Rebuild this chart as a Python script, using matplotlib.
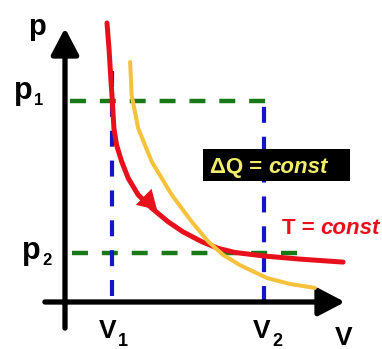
import matplotlib
matplotlib.use("Agg")
import matplotlib.pyplot as plt
from matplotlib.patches import Rectangle

plt.rcParams["font.family"] = ["Liberation Sans", "DejaVu Sans"]
plt.rcParams["lines.scale_dashes"] = False

# state points (arbitrary units, origin at the axis corner)
V1, V2 = 1.57, 6.63
p1, p2 = 6.70, 1.62

# isotherm (red)
iso_V = [1.40, 1.47, 1.53, 1.58, 1.63, 1.72, 1.89, 2.11, 2.44, 2.89, 3.43, 3.93,
         4.56, 5.10, 5.67, 6.67, 7.83, 9.27]
iso_p = [9.30, 8.40, 7.40, 6.68, 5.79, 5.23, 4.68, 4.12, 3.57, 3.13, 2.68, 2.34,
         2.01, 1.79, 1.65, 1.53, 1.43, 1.33]

# adiabat-like curve (yellow)
adi_V = [2.17, 2.20, 2.22, 2.44, 2.89, 3.56, 4.22, 4.78, 5.27, 5.83, 6.73, 7.50, 8.33]
adi_p = [8.00, 7.40, 6.90, 5.79, 4.68, 3.57, 2.68, 2.01, 1.57, 1.23, 0.80, 0.60, 0.47]

GREEN = "#177a17"
BLUE = "#1414c8"
RED = "#e8101c"
GOLD = "#f6c23c"

fig = plt.figure(figsize=(3.82, 3.49), dpi=100)
ax = fig.add_axes([0, 0, 1, 1])
ax.set_xlim(-65 / 30, 317 / 30)
ax.set_ylim(-47 / 30, 302 / 30)
ax.axis("off")

dash = (0, (11.5, 10))
# guide lines
ax.plot([0.17, 7.0], [p1, p1], color=GREEN, lw=3.2, linestyle=dash)
ax.plot([0.23, 8.0], [p2, p2], color=GREEN, lw=3.2, linestyle=dash)
ax.plot([V1, V1], [0.2, 8.07], color=BLUE, lw=3.0, linestyle=dash)
ax.plot([V2, V2], [0.0, 6.73], color=BLUE, lw=3.0, linestyle=dash)

# axes with arrows
for tip, start in [((9.33, 0), (-0.67, 0)), ((0, 9.13), (0, -0.87))]:
    ax.annotate("", xy=tip, xytext=start,
                arrowprops=dict(arrowstyle="-|>,head_length=0.8,head_width=0.42",
                                mutation_scale=20, lw=3.8, color="black",
                                shrinkA=0, shrinkB=0))

# curves
ax.plot(iso_V, iso_p, color=RED, lw=3.6, solid_joinstyle="round",
        solid_capstyle="round", zorder=3)
ax.plot(adi_V, adi_p, color=GOLD, lw=2.9, solid_joinstyle="round",
        solid_capstyle="round", zorder=4)
ax.annotate("", xy=(3.07, 3.07), xytext=(2.66, 3.47),
            arrowprops=dict(arrowstyle="-|>,head_length=0.75,head_width=0.45",
                            mutation_scale=18, lw=0, color=RED,
                            shrinkA=0, shrinkB=0), zorder=5)


# labels
def sublabel(x, y, main, sub, size, subsize, dy):
    t = ax.text(x, y, main, fontsize=size, fontweight="bold", ha="left", va="baseline")
    ax.annotate(sub, xy=(1, 0), xycoords=t, xytext=(1, dy), textcoords="offset points",
                fontsize=subsize, fontweight="bold", ha="left", va="baseline")


ax.text(-37 / 30, 267 / 30, "p", fontsize=21, fontweight="bold", ha="left", va="baseline")
sublabel(-51 / 30, 203 / 30, "p", "1", 22, 12, 1)
sublabel(-43 / 30, 43 / 30, "p", "2", 22, 12, 1)
sublabel(34 / 30, -36 / 30, "V", "1", 19, 13, -2)
sublabel(188 / 30, -36 / 30, "V", "2", 19, 13, -2)
ax.text(270 / 30, -43 / 30, "V", fontsize=19, fontweight="bold", ha="left", va="baseline")

# delta-Q box
ax.add_patch(Rectangle((4.6, 4.03), 4.9, 1.07, facecolor="black", edgecolor="none", zorder=6))
tq = ax.text(4.83, 4.3, "\u0394Q = ", fontsize=16, fontweight="bold", color="#f2ee6a",
             ha="left", va="baseline", zorder=7)
ax.annotate("const", xy=(1, 0), xycoords=tq, fontsize=16, fontweight="bold",
            fontstyle="italic", color="#f2ee6a", ha="left", va="bottom", zorder=7)

tt = ax.text(7.23, 2.27, "T = ", fontsize=16, fontweight="bold", color=RED,
             ha="left", va="baseline")
ax.annotate("const", xy=(1, 0), xycoords=tt, fontsize=16, fontweight="bold",
            fontstyle="italic", color=RED, ha="left", va="bottom")

fig.savefig("out.png", dpi=100)
